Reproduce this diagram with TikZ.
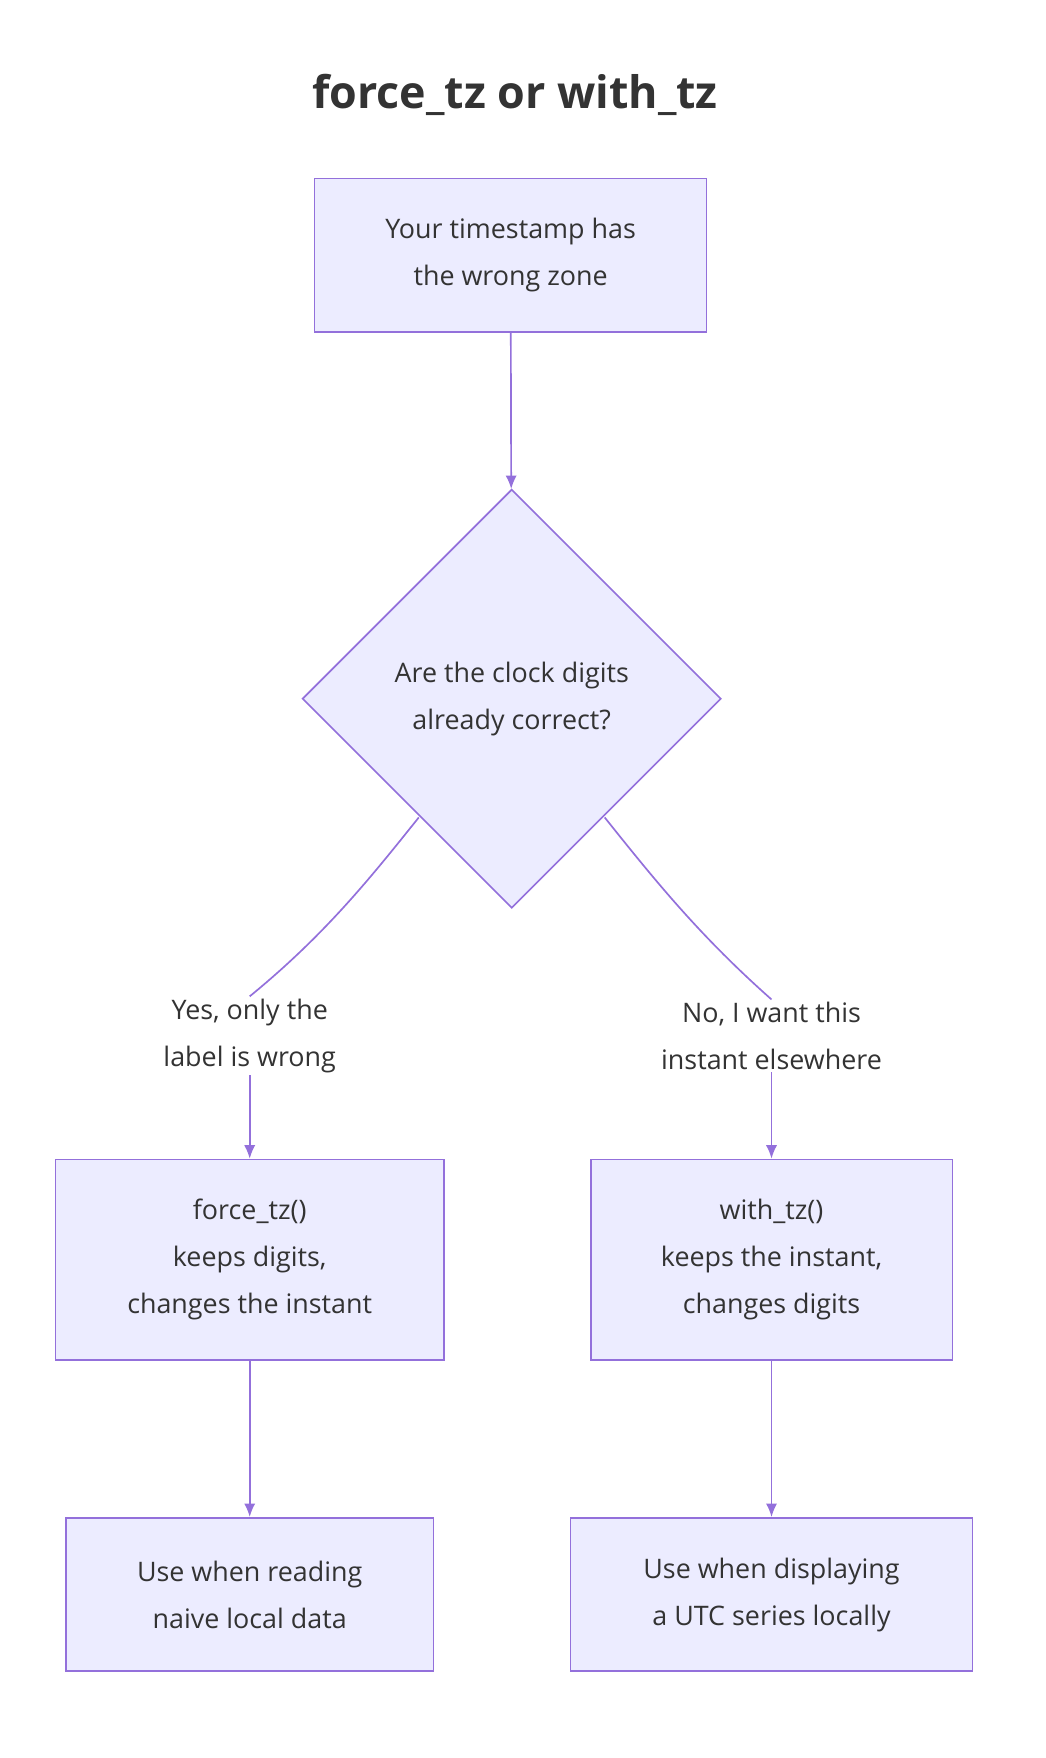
\documentclass[tikz,border=0pt]{standalone}
\usepackage{fontspec}
\setmainfont{Open Sans}
\usetikzlibrary{shapes.geometric,arrows.meta}
\definecolor{boxfill}{HTML}{ECECFF}
\definecolor{boxline}{HTML}{9370DB}
\definecolor{ink}{HTML}{333333}
\tikzset{%
    box/.style={draw=boxline,fill=boxfill,line width=1.5pt,text=ink,align=center,inner sep=0pt,font=\fontsize{24}{42}\selectfont},
    ask/.style={diamond,draw=boxline,fill=boxfill,line width=1.5pt,text=ink,align=center,inner sep=0pt,minimum size=374pt,font=\fontsize{24}{42}\selectfont},
    lbl/.style={text=ink,align=center,inner sep=2pt,font=\fontsize{24}{42}\selectfont},
    flow/.style={draw=boxline,line width=1.5pt},
    arr/.style={flow,-{Latex[length=12pt,width=10pt]}}
}
\begin{document}
\begin{tikzpicture}[x=1pt,y=1pt]
        \useasboundingbox (0,0) rectangle (934,-1570);

        \node[text=ink,font=\fontsize{40}{48}\selectfont\bfseries] (title) at (460,-85) {force\_tz or with\_tz};

        \node[box,minimum width=350pt,minimum height=137pt] (start) at (456,-228) {Your timestamp has\\the wrong zone};
        \node[ask] (digits) at (457,-624) {Are the clock digits\\already correct?};

        \node[lbl] (yes) at (223,-925) {Yes, only the\\label is wrong};
        \node[lbl] (no) at (689,-925) {No, I want this\\instant elsewhere};

        \node[box,minimum width=347pt,minimum height=179pt] (force) at (223,-1125) {force\_tz()\\keeps digits,\\changes the instant};
        \node[box,minimum width=323pt,minimum height=179pt] (with) at (689,-1125) {with\_tz()\\keeps the instant,\\changes digits};

        \node[box,minimum width=328pt,minimum height=137pt] (naive) at (223,-1424) {Use when reading\\naive local data};
        \node[box,minimum width=359pt,minimum height=137pt] (local) at (689,-1424) {Use when displaying\\a UTC series locally};

        \draw[arr] (start) -- (digits);
        \draw[flow] (digits.south west) ++(0,0) (374,-730) .. controls (330,-785) and (290,-835) .. (yes.north);
        \draw[flow] (540,-730) .. controls (584,-785) and (624,-835) .. (no.north);
        \draw[arr] (yes.south) .. controls (223,-985) and (223,-1010) .. (force.north);
        \draw[arr] (no.south) .. controls (689,-985) and (689,-1010) .. (with.north);
        \draw[arr] (force) -- (naive);
        \draw[arr] (with) -- (local);
    \end{tikzpicture}
\end{document}
